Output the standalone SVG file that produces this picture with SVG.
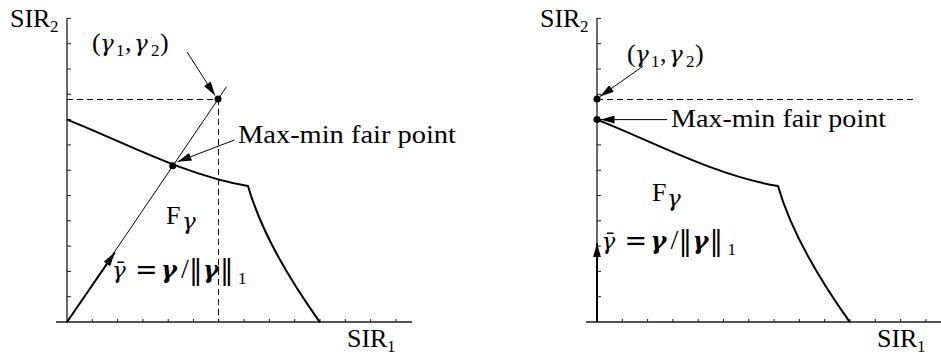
<svg xmlns="http://www.w3.org/2000/svg" width="941" height="356" viewBox="0 0 941 356">
<defs>
<style>
.ax{stroke:#1a1a1a;stroke-width:1.3;fill:none}
.tk{stroke:#1a1a1a;stroke-width:1;fill:none}
.cv{stroke:#000;stroke-width:2;fill:none;stroke-linejoin:miter}
.dash{stroke:#000;stroke-width:1;stroke-dasharray:6 4;fill:none}
.thin{stroke:#000;stroke-width:1;fill:none}
.bold{stroke:#000;stroke-width:2;fill:none}
.t{font-family:"Liberation Serif","Times New Roman",serif;fill:#000;font-size:26px}
.g{font-family:"DejaVu Serif","DejaVu Sans",serif;font-style:italic;font-size:23px}
.gb{font-family:"DejaVu Serif","DejaVu Sans",serif;font-style:italic;font-weight:bold;font-size:24px}
.dv{font-family:"DejaVu Serif","DejaVu Sans",serif;font-size:27px}
.eq{font-family:"DejaVu Serif","DejaVu Sans",serif;font-size:27px}
.sub{font-size:17px}
</style>
<marker id="ah" viewBox="0 0 14 8" refX="14" refY="4" markerWidth="14" markerHeight="8" markerUnits="userSpaceOnUse" orient="auto">
<path d="M0,0 L14,4 L0,8 Z" fill="#000"/>
</marker>
<path id="yt" d="M0,296.7h4M0,271.4h4M0,246.1h4M0,220.8h4M0,195.5h4M0,170.2h4M0,144.9h4M0,119.6h4M0,94.3h4M0,69h4M0,43.7h4M0,18.4h4"/>
<path id="xt" d="M25.3,322v-3M50.6,322v-3M75.9,322v-3M101.2,322v-3M126.5,322v-3M151.8,322v-3M177.1,322v-3M202.4,322v-3M227.7,322v-3M253,322v-3M278.3,322v-3M303.6,322v-3M328.9,322v-3"/>
</defs>

<g id="left-axes">
<line class="ax" x1="67" y1="322" x2="67" y2="18"/>
<line class="ax" x1="56" y1="322" x2="412" y2="322"/>
<use href="#yt" class="tk" transform="translate(67,0)"/>
<use href="#xt" class="tk" transform="translate(67,0)"/>
<text class="t" x="10" y="27">SIR<tspan class="sub" x="50" y="32">2</tspan></text>
<text class="t" x="347" y="347">SIR<tspan class="sub" x="387" y="352">1</tspan></text>
</g>

<g id="left-region">
<path class="cv" d="M67,119.6 C115,138 185,176 248,186 Q265,245.3 320,322.3"/>
<line class="dash" x1="67" y1="99.5" x2="218" y2="99.5"/>
<line class="dash" x1="218.5" y1="99" x2="218.5" y2="322"/>
<text class="t" x="166" y="224">F<tspan class="g" font-size="15" x="182" y="229">γ</tspan></text>
</g>

<g id="right-axes">
<line class="ax" x1="597" y1="322" x2="597" y2="18"/>
<line class="ax" x1="586" y1="322" x2="941" y2="322"/>
<use href="#yt" class="tk" transform="translate(597,0)"/>
<use href="#xt" class="tk" transform="translate(597,0)"/>
<text class="t" x="540" y="27">SIR<tspan class="sub" x="580" y="32">2</tspan></text>
<text class="t" x="877" y="347">SIR<tspan class="sub" x="917" y="352">1</tspan></text>
</g>

<g id="right-region">
<path class="cv" d="M597,119.6 C645,138 715,176 778,186 Q795,245.3 850,322.3"/>
<line class="dash" x1="597" y1="99.5" x2="913" y2="99.5"/>
<text class="t" x="652" y="201">F<tspan class="g" font-size="15" x="667" y="206">γ</tspan></text>
</g>

<g id="connectors">
<line class="thin" x1="67" y1="322" x2="226.6" y2="86.6"/>
<line class="bold" x1="67" y1="322" x2="114.8" y2="252.5" marker-end="url(#ah)"/>
<line class="thin" x1="187" y1="52" x2="215" y2="95.5" marker-end="url(#ah)"/>
<line class="thin" x1="234.3" y1="140" x2="177.5" y2="161.8" marker-end="url(#ah)"/>
<line class="bold" x1="597" y1="322" x2="597" y2="243.3" marker-end="url(#ah)"/>
<line class="thin" x1="643.3" y1="66" x2="600" y2="96.5" marker-end="url(#ah)"/>
<line class="thin" x1="667" y1="119.6" x2="600.5" y2="119.6" marker-end="url(#ah)"/>
</g>

<g id="node-left-gamma">
<circle cx="218" cy="99" r="3.5" fill="#000"/>
<text class="t"><tspan x="92" y="51">(</tspan><tspan class="g" x="100" y="51">γ</tspan><tspan class="sub" x="116" y="56">1</tspan><tspan x="125" y="51">,</tspan><tspan class="g" x="134" y="51">γ</tspan><tspan class="sub" x="151" y="56">2</tspan><tspan x="160" y="51">)</tspan></text>
</g>

<g id="node-left-maxmin">
<circle cx="172.7" cy="165.7" r="3.5" fill="#000"/>
<text class="t" x="238" y="143" font-size="27" textLength="218" lengthAdjust="spacingAndGlyphs">Max-min fair point</text>
</g>

<g id="node-left-formula">
<text class="t"><tspan class="g" x="112" y="278">γ̄</tspan><tspan class="eq" x="135" y="279">=</tspan><tspan class="gb" x="161" y="278">γ</tspan><tspan x="181" y="278" font-size="28">/</tspan><tspan class="dv" x="189" y="279">‖</tspan><tspan class="gb" x="203" y="278">γ</tspan><tspan class="dv" x="220" y="279">‖</tspan><tspan class="sub" x="238" y="284">1</tspan></text>
</g>

<g id="node-right-gamma">
<circle cx="597" cy="99" r="3.5" fill="#000"/>
<text class="t"><tspan x="627" y="62">(</tspan><tspan class="g" x="635" y="62">γ</tspan><tspan class="sub" x="651" y="67">1</tspan><tspan x="660" y="62">,</tspan><tspan class="g" x="669" y="62">γ</tspan><tspan class="sub" x="686" y="67">2</tspan><tspan x="695" y="62">)</tspan></text>
</g>

<g id="node-right-maxmin">
<circle cx="597" cy="119.6" r="3.5" fill="#000"/>
<text class="t" x="671" y="127" font-size="27" textLength="215" lengthAdjust="spacingAndGlyphs">Max-min fair point</text>
</g>

<g id="node-right-formula">
<text class="t"><tspan class="g" x="601.5" y="249">γ̄</tspan><tspan class="eq" x="624.5" y="250">=</tspan><tspan class="gb" x="650.5" y="249">γ</tspan><tspan x="670.5" y="249" font-size="28">/</tspan><tspan class="dv" x="678.5" y="250">‖</tspan><tspan class="gb" x="692.5" y="249">γ</tspan><tspan class="dv" x="709.5" y="250">‖</tspan><tspan class="sub" x="727.5" y="255">1</tspan></text>
</g>
</svg>
